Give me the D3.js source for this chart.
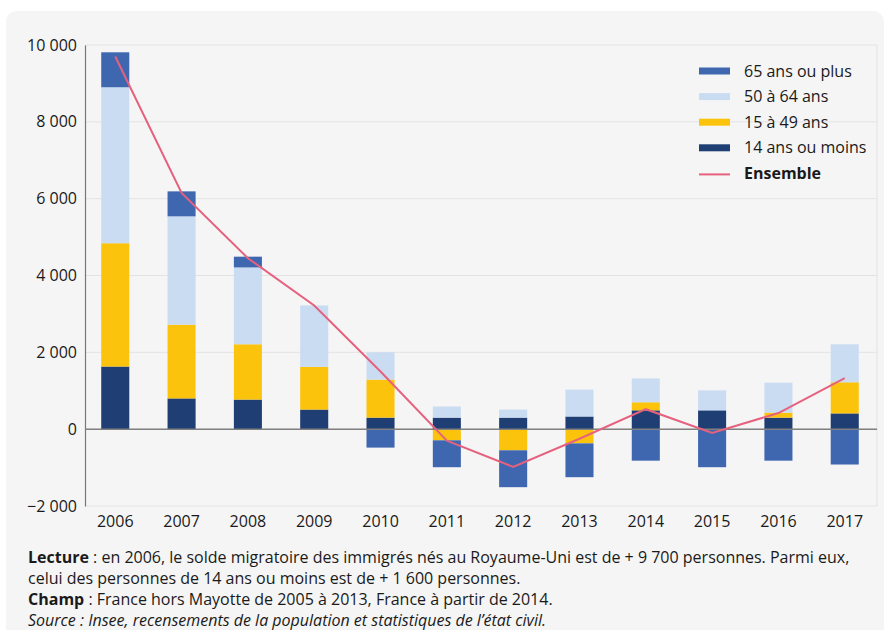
<!DOCTYPE html>
<html>
  <head>
    <meta charset="utf-8">
    <style>
      body { margin: 0; background: #fff; font-family: "Open Sans", sans-serif; }
      svg text { font-family: "Open Sans", sans-serif; fill: #1a1a1a; }
    </style>
  </head>
  <body>
    <script src="https://d3js.org/d3.v7.min.js"></script>
    <script>
      const years = ["2006","2007","2008","2009","2010","2011","2012","2013","2014","2015","2016","2017"]
      const moins14 = [1630, 800, 770, 510, 300, 300, 300, 330, 490, 490, 300, 410]
      const de15a49 = [3210, 1920, 1440, 1110, 990, -290, -550, -370, 210, 0, 130, 810]
      const de50a64 = [4060, 2820, 2000, 1600, 710, 290, 210, 700, 620, 520, 780, 990]
      const plus65 = [910, 650, 280, 0, -480, -700, -960, -880, -820, -990, -820, -920]
      const ensemble = [9700, 6150, 4450, 3220, 1500, -300, -980, -250, 520, -100, 420, 1330]
      const yTicks = [-2000, 0, 2000, 4000, 6000, 8000, 10000]
      const keys = ["moins14", "de15a49", "de50a64", "plus65"]
      const labels = {
        plus65: "65 ans ou plus",
        de50a64: "50 à 64 ans",
        de15a49: "15 à 49 ans",
        moins14: "14 ans ou moins"
      }
      const colors = {
        moins14: "#1f3f74",
        de15a49: "#fcc30d",
        de50a64: "#cadcf2",
        plus65: "#3e67b0"
      }
      const lineColor = "#e6617e"

      const rows = years.map((y, i) => ({
        year: y, moins14: moins14[i], de15a49: de15a49[i], de50a64: de50a64[i], plus65: plus65[i]
      }))

      const w = 887, h = 630
      const svg = d3.select("body").append("svg")
        .attr("width", w)
        .attr("height", h)

      // panneau gris
      svg.append("rect")
        .attr("x", 6).attr("y", 11)
        .attr("width", 878).attr("height", 640)
        .attr("rx", 11)
        .attr("fill", "#f5f5f5")

      const plotLeft = 85, plotRight = 877, plotTop = 45, plotBottom = 506
      const yScale = d3.scaleLinear().domain([-2000, 10000]).range([plotBottom, plotTop])
      const xScale = d3.scaleBand().domain(years).range([82, 878]).paddingInner(0.577).paddingOuter(0.29)

      const fr = d3.formatLocale({ decimal: ",", thousands: " ", grouping: [3], currency: ["", " €"], minus: "\u2212" })
      const fmt = fr.format(",d")

      // grille
      svg.append("g").selectAll("line")
        .data(yTicks)
        .enter().append("line")
          .attr("x1", plotLeft).attr("x2", plotRight)
          .attr("y1", d => yScale(d)).attr("y2", d => yScale(d))
          .attr("stroke", "#e3e3e3").attr("stroke-width", 1)
      svg.append("line")
        .attr("x1", plotRight).attr("x2", plotRight)
        .attr("y1", plotTop).attr("y2", plotBottom)
        .attr("stroke", "#e3e3e3")

      // barres
      const stack = d3.stack().keys(keys).offset(d3.stackOffsetDiverging)
      const series = stack(rows)
      svg.append("g").selectAll("g")
        .data(series)
        .enter().append("g")
          .attr("fill", d => colors[d.key])
        .selectAll("rect")
        .data(d => d)
        .enter().append("rect")
          .attr("x", d => xScale(d.data.year))
          .attr("width", xScale.bandwidth())
          .attr("y", d => yScale(Math.max(d[0], d[1])))
          .attr("height", d => Math.abs(yScale(d[0]) - yScale(d[1])))

      // axe des ordonnées
      const yAxis = d3.axisLeft(yScale).tickValues(yTicks).tickSize(0).tickPadding(8).tickFormat(fmt)
      const gy = svg.append("g")
        .attr("transform", "translate(" + plotLeft + ",0)")
        .call(yAxis)
      gy.select(".domain").attr("stroke", "#777").attr("stroke-width", 1.2)
      gy.selectAll("text").style("font-size", "16px").attr("fill", "#1a1a1a")

      // ligne zéro
      svg.append("line")
        .attr("x1", plotLeft).attr("x2", plotRight)
        .attr("y1", yScale(0)).attr("y2", yScale(0))
        .attr("stroke", "#808080").attr("stroke-width", 1.5)

      // axe des abscisses
      const xAxis = d3.axisBottom(xScale).tickSize(0).tickPadding(10)
      const gx = svg.append("g")
        .attr("transform", "translate(0," + plotBottom + ")")
        .call(xAxis)
      gx.select(".domain").remove()
      gx.selectAll("text").style("font-size", "16px").attr("fill", "#1a1a1a")

      // ensemble
      const line = d3.line()
        .x((d, i) => xScale(years[i]) + xScale.bandwidth() / 2)
        .y(d => yScale(d))
      svg.append("path")
        .datum(ensemble)
        .attr("d", line)
        .attr("fill", "none")
        .attr("stroke", lineColor)
        .attr("stroke-width", 2)

      // légende
      const legendKeys = ["plus65", "de50a64", "de15a49", "moins14"]
      const lg = svg.append("g").attr("transform", "translate(699,71)")
      legendKeys.forEach((k, i) => {
        lg.append("rect")
          .attr("x", 0).attr("y", i * 25.6 - 3.5)
          .attr("width", 31).attr("height", 7)
          .attr("fill", colors[k])
        lg.append("text")
          .attr("x", 45).attr("y", i * 25.6 + 5.5)
          .style("font-size", "16px")
          .text(labels[k])
      })
      lg.append("line")
        .attr("x1", 0).attr("x2", 31)
        .attr("y1", 4 * 25.6 + 1).attr("y2", 4 * 25.6 + 1)
        .attr("stroke", lineColor).attr("stroke-width", 2)
      lg.append("text")
        .attr("x", 45).attr("y", 4 * 25.6 + 5.5)
        .style("font-size", "16px")
        .style("font-weight", "bold")
        .text("Ensemble")

      // notes
      const notes = svg.append("g").style("font-size", "16px")
      const l1 = notes.append("text").attr("x", 28).attr("y", 563)
      l1.append("tspan").style("font-weight", "bold").text("Lecture")
      l1.append("tspan").text(" : en 2006, le solde migratoire des immigrés nés au Royaume-Uni est de + 9 700 personnes. Parmi eux,")
      notes.append("text").attr("x", 28).attr("y", 584)
        .text("celui des personnes de 14 ans ou moins est de + 1 600 personnes.")
      const l3 = notes.append("text").attr("x", 28).attr("y", 605)
      l3.append("tspan").style("font-weight", "bold").text("Champ")
      l3.append("tspan").text(" : France hors Mayotte de 2005 à 2013, France à partir de 2014.")
      notes.append("text").attr("x", 28).attr("y", 625.5)
        .style("font-style", "italic")
        .text("Source : Insee, recensements de la population et statistiques de l\u2019état civil.")
    </script>
  </body>
</html>
